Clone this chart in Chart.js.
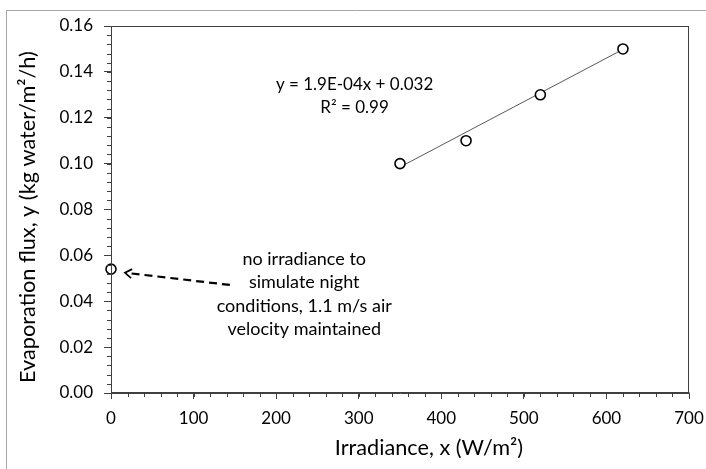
<!DOCTYPE html>
<html>
<head>
<meta charset="utf-8">
<script src="https://cdn.jsdelivr.net/npm/chart.js@4.4.0/dist/chart.umd.min.js"></script>
<style>
  html, body { margin: 0; padding: 0; background: #fff; }
  #wrap { width: 706px; height: 469px; position: relative; }
</style>
</head>
<body>
<div id="wrap"><canvas id="c" width="706" height="469"></canvas></div>
<script>
// ---- data ----
const irradiance = [0, 350, 430, 520, 620];
const flux = [0.054, 0.100, 0.110, 0.130, 0.150];
const trendX = [350, 620];
const trendY = [0.0985, 0.1498];
const xTicks = [0, 100, 200, 300, 400, 500, 600, 700];
const yTicks = [0.00, 0.02, 0.04, 0.06, 0.08, 0.10, 0.12, 0.14, 0.16];
const xMinorStep = 20;
const yMinorStep = 0.004;
const xTitle = 'Irradiance, x (W/m\u00B2)';
const yTitle = 'Evaporation flux, y (kg water/m\u00B2/h)';
const equationLines = ['y = 1.9E-04x + 0.032', 'R\u00B2 = 0.99'];
const noteLines = ['no irradiance to', 'simulate night', 'conditions, 1.1 m/s air', 'velocity maintained'];

const FONT = 'Lato, "Open Sans", sans-serif';

const extras = {
  id: 'extras',
  beforeDraw(chart) {
    const ctx = chart.ctx;
    ctx.save();
    ctx.fillStyle = '#fff';
    ctx.fillRect(0, 0, chart.width, chart.height);
    ctx.strokeStyle = '#a6a6a6';
    ctx.lineWidth = 1;
    ctx.beginPath();
    ctx.moveTo(6.5, chart.height);
    ctx.lineTo(6.5, 10.5);
    ctx.lineTo(chart.width, 10.5);
    ctx.stroke();
    ctx.restore();
  },
  afterDraw(chart) {
    const ctx = chart.ctx;
    const xs = chart.scales.x, ys = chart.scales.y;
    const a = chart.chartArea;
    ctx.save();
    // plot frame
    ctx.strokeStyle = '#404040';
    ctx.lineWidth = 1;
    const L0 = Math.round(a.left) + 0.5, T0 = Math.round(a.top) + 0.5;
    const R0 = Math.round(a.right) - 0.5, B0 = Math.round(a.bottom) - 0.5;
    ctx.strokeRect(L0, T0, R0 - L0, B0 - T0);
    // minor ticks
    ctx.beginPath();
    for (let v = xs.min; v <= xs.max + 1e-9; v += xMinorStep) {
      const px = Math.round(xs.getPixelForValue(v)) + 0.5;
      ctx.moveTo(px, B0);
      ctx.lineTo(px, B0 + 4.5);
    }
    for (let v = ys.min; v <= ys.max + 1e-9; v += yMinorStep) {
      const py = Math.round(ys.getPixelForValue(v)) + 0.5;
      ctx.moveTo(L0, py);
      ctx.lineTo(L0 - 4.5, py);
    }
    ctx.stroke();

    ctx.fillStyle = '#000';
    ctx.textAlign = 'center';
    ctx.textBaseline = 'middle';

    // axis titles
    ctx.font = '21.7px ' + FONT;
    ctx.fillText(xTitle, xs.getPixelForValue(385), 448);
    ctx.save();
    ctx.translate(28, ys.getPixelForValue(0.0767));
    ctx.rotate(-Math.PI / 2);
    ctx.fillText(yTitle, 0, 0);
    ctx.restore();

    // equation
    ctx.font = '17px ' + FONT;
    const ex = xs.getPixelForValue(295);
    const ey = ys.getPixelForValue(0.1343);
    equationLines.forEach((t, i) => ctx.fillText(t, ex, ey + i * 23));

    // note
    ctx.font = '18px ' + FONT;
    const nx = xs.getPixelForValue(234);
    const ny = ys.getPixelForValue(0.0584);
    noteLines.forEach((t, i) => ctx.fillText(t, nx, ny + i * 23.5));

    // dashed arrow
    const tx = xs.getPixelForValue(144), ty = ys.getPixelForValue(0.0471);
    const hx = xs.getPixelForValue(17), hy = ys.getPixelForValue(0.0524);
    ctx.strokeStyle = '#000';
    ctx.lineWidth = 2.2;
    ctx.setLineDash([8, 5]);
    ctx.beginPath();
    ctx.moveTo(tx, ty);
    ctx.lineTo(hx + 3, hy + 0.3);
    ctx.stroke();
    ctx.setLineDash([]);
    const ang = Math.atan2(ty - hy, tx - hx);
    const L = 8, spread = 0.6;
    ctx.lineWidth = 1.8;
    ctx.beginPath();
    ctx.moveTo(hx + L * Math.cos(ang - spread), hy + L * Math.sin(ang - spread));
    ctx.lineTo(hx, hy);
    ctx.lineTo(hx + L * Math.cos(ang + spread), hy + L * Math.sin(ang + spread));
    ctx.stroke();
    ctx.restore();
  }
};

new Chart(document.getElementById('c'), {
  type: 'scatter',
  data: {
    datasets: [
      {
        label: 'Trend',
        data: trendX.map((x, i) => ({ x, y: trendY[i] })),
        showLine: true,
        borderColor: '#595959',
        borderWidth: 1,
        pointRadius: 0,
        order: 2
      },
      {
        label: 'Evaporation flux',
        data: irradiance.map((x, i) => ({ x, y: flux[i] })),
        pointRadius: 5,
        pointBorderWidth: 1.6,
        pointBorderColor: '#000',
        pointBackgroundColor: '#fff',
        order: 1,
        clip: false
      }
    ]
  },
  options: {
    responsive: false,
    animation: false,
    devicePixelRatio: 1,
    layout: { padding: { left: 0, top: 26, right: 17, bottom: 0 } },
    plugins: { legend: { display: false }, tooltip: { enabled: false } },
    scales: {
      x: {
        type: 'linear', min: 0, max: 700,
        afterBuildTicks: s => { s.ticks = xTicks.map(v => ({ value: v })); },
        afterFit: s => { s.height = 76; s.paddingLeft = 0; s.paddingRight = 0; },
        grid: { drawOnChartArea: false, tickLength: 6, color: '#404040', tickColor: '#404040' },
        border: { display: true, color: '#404040', width: 1 },
        ticks: { font: { size: 17, family: FONT }, color: '#000', padding: 9, maxRotation: 0 },
        title: { display: false }
      },
      y: {
        type: 'linear', min: 0, max: 0.16,
        afterBuildTicks: s => { s.ticks = yTicks.map(v => ({ value: v })); },
        afterFit: s => { s.width = 111; s.paddingTop = 0; s.paddingBottom = 0; },
        grid: { drawOnChartArea: false, tickLength: 7, color: '#404040', tickColor: '#404040' },
        border: { display: true, color: '#404040', width: 1 },
        ticks: { font: { size: 17, family: FONT }, color: '#000', padding: 11, callback: v => v.toFixed(2) },
        title: { display: false }
      }
    }
  },
  plugins: [extras]
});
</script>
</body>
</html>
